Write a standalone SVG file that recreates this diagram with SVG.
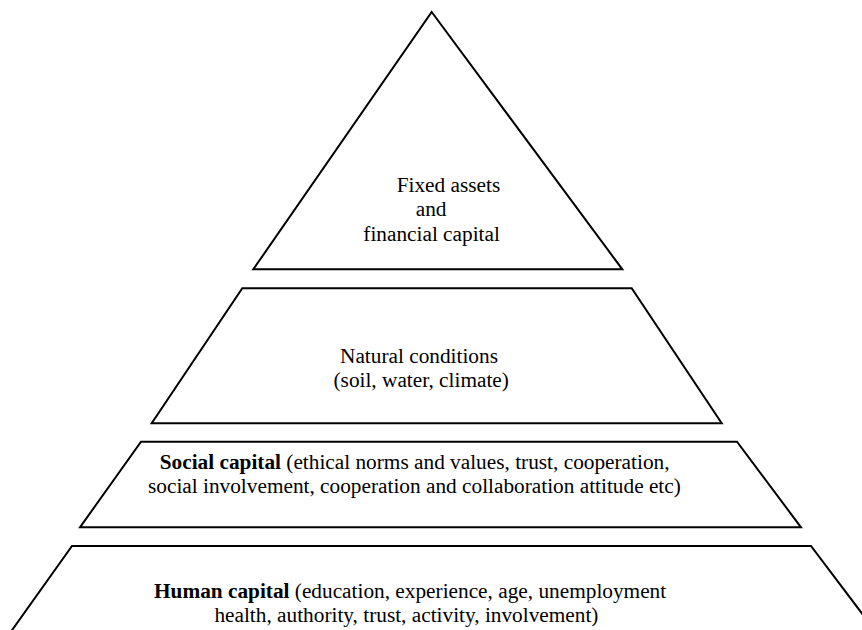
<svg xmlns="http://www.w3.org/2000/svg" width="862" height="630" viewBox="0 0 862 630">
  <style>
    .layer { fill: #ffffff; stroke: #000000; stroke-width: 2; stroke-linejoin: miter; }
    .t { font-family: "Liberation Serif", "Times New Roman", serif; font-size: 21.3px; fill: #000000; }
    .b { font-weight: bold; }
  </style>
  <rect x="0" y="0" width="862" height="630" fill="#ffffff"/>
  <g id="fixed-assets">
    <polygon class="layer" points="431.7,12 622.3,269.3 253.3,269.3"/>
    <text class="t" x="396.7" y="191.7">Fixed assets</text>
    <text class="t" x="415.7" y="216">and</text>
    <text class="t" x="363.3" y="240.7">financial capital</text>
  </g>
  <g id="natural-conditions">
    <polygon class="layer" points="242.3,288.3 631.7,288.3 721.7,423.3 151.7,423.3"/>
    <text class="t" x="340" y="362.5">Natural conditions</text>
    <text class="t" x="333.5" y="386.5">(soil, water, climate)</text>
  </g>
  <g id="social-capital">
    <polygon class="layer" points="141,441.7 737,441.7 801,527.3 80,527.3"/>
    <text class="t" x="159.7" y="469"><tspan class="b">Social capital</tspan> (ethical norms and values, trust, cooperation,</text>
    <text class="t" x="148" y="493">social involvement, cooperation and collaboration attitude etc)</text>
  </g>
  <g id="human-capital">
    <polygon class="layer" points="72,546 811,546 882,640 5,640"/>
    <text class="t" x="154" y="598"><tspan class="b">Human capital</tspan> (education, experience, age, unemployment</text>
    <text class="t" x="214.4" y="622">health, authority, trust, activity, involvement)</text>
  </g>
  <g id="connectors"/>
</svg>
